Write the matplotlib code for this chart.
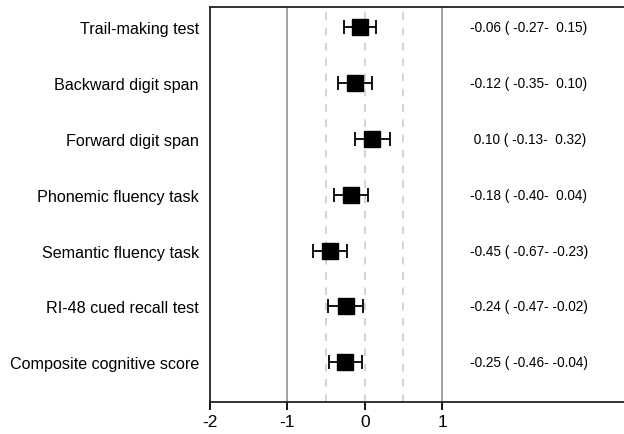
import numpy as np
import matplotlib
matplotlib.use('Agg')
import matplotlib.pyplot as plt

plt.rcParams['font.family'] = ['Liberation Sans', 'DejaVu Sans']

# outcomes, top to bottom
labels = ['Trail-making test', 'Backward digit span', 'Forward digit span',
          'Phonemic fluency task', 'Semantic fluency task',
          'RI-48 cued recall test', 'Composite cognitive score']
est = [-0.06, -0.12, 0.10, -0.18, -0.45, -0.24, -0.25]
lo = [-0.27, -0.35, -0.13, -0.40, -0.67, -0.47, -0.46]
hi = [0.15, 0.10, 0.32, 0.04, -0.23, -0.02, -0.04]
xticks = [-2, -1, 0, 1]

n = len(labels)
y = np.arange(n, 0, -1)
est = np.array(est)
lo = np.array(lo)
hi = np.array(hi)

fig = plt.figure(figsize=(6.24, 4.35), dpi=100)
ax = fig.add_axes([0.3365, 0.0736, 0.6635, 0.908])

# reference lines
for v in [-1, 1]:
    ax.axvline(v, color='#9a9a9a', lw=1.3, zorder=1)
for v in [-0.5, 0, 0.5]:
    ax.axvline(v, color='#c8c8c8', lw=1.1, ls=(0, (5, 5)), zorder=1)

ax.errorbar(est, y, xerr=[est - lo, hi - est], fmt='s', color='black',
            ms=12, ecolor='black', elinewidth=1.3, capsize=4.8,
            capthick=1.3, zorder=3)

for yi, e, l, h in zip(y, est, lo, hi):
    ax.text(1.36, yi, f'{e:5.2f} ({l:6.2f}-{h:6.2f})', va='center',
            ha='left', fontsize=9.8)

ax.set_xlim(-2, 3.35)
ax.set_ylim(0.29, 7.36)
ax.set_xticks(xticks)
ax.set_xticklabels([str(t) for t in xticks], fontsize=12.5)
ax.set_yticks(y)
ax.set_yticklabels(labels, fontsize=11.6)
ax.tick_params(axis='y', length=0, pad=8)
ax.tick_params(axis='x', length=6, width=1.3, pad=3)
ax.spines['right'].set_visible(False)
for s in ['left', 'top', 'bottom']:
    ax.spines[s].set_linewidth(1.3)
    ax.spines[s].set_color('#222222')

fig.savefig('out.png', dpi=100)
